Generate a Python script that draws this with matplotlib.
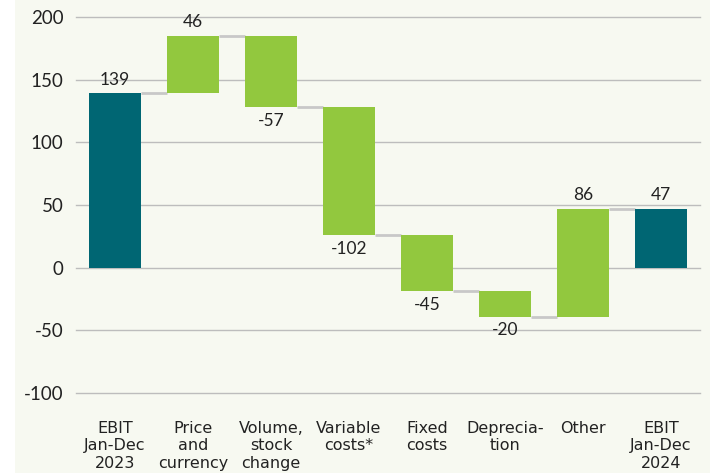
import matplotlib
matplotlib.use("Agg")
import matplotlib.pyplot as plt
import numpy as np
from matplotlib.patches import Rectangle

categories = ["EBIT\nJan-Dec\n2023", "Price\nand\ncurrency", "Volume,\nstock\nchange",
              "Variable\ncosts*", "Fixed\ncosts", "Deprecia-\ntion", "Other",
              "EBIT\nJan-Dec\n2024"]
values = [139, 46, -57, -102, -45, -20, 86, 47]
is_total = [True, False, False, False, False, False, False, True]

TEAL = "#006673"
GREEN = "#92c83e"
BG = "#f7f9f1"

plt.rcParams['font.family'] = ['Lato', 'DejaVu Sans']
plt.rcParams['axes.unicode_minus'] = False

fig = plt.figure(figsize=(7.1, 4.73), dpi=100, facecolor="white")
fig.patches.append(Rectangle((15 / 710, 0), 1, 1, transform=fig.transFigure,
                             facecolor=BG, edgecolor="none", zorder=-10))
ax = fig.add_axes([76 / 710, 1 - 393 / 473, (700 - 76) / 710, (393 - 17) / 473])
ax.set_facecolor(BG)

x = np.arange(len(categories))
width = 0.67

# running totals for the waterfall
bottoms, heights, ends = [], [], []
level = 0
for v, tot in zip(values, is_total):
    if tot:
        bottoms.append(0)
        heights.append(v)
        level = v
    else:
        start = level
        level = level + v
        bottoms.append(min(start, level))
        heights.append(abs(v))
    ends.append(level)

colors = [TEAL if t else GREEN for t in is_total]
ax.bar(x, heights, width, bottom=bottoms, color=colors, zorder=3)

# connector lines
for i in range(len(x) - 1):
    ax.plot([x[i] + width / 2, x[i + 1] - width / 2], [ends[i], ends[i]],
            color="#c8c8c8", lw=2, zorder=2, solid_capstyle="butt")

# value labels
for i, v in enumerate(values):
    if v >= 0:
        ax.annotate(str(v), (x[i], bottoms[i] + heights[i]), xytext=(0, 4),
                    textcoords="offset points", ha="center", va="bottom",
                    fontsize=12.5, color="#222222")
    else:
        ax.annotate(str(v), (x[i], bottoms[i]), xytext=(0, -4),
                    textcoords="offset points", ha="center", va="top",
                    fontsize=12.5, color="#222222")

ax.set_xlim(-0.5, len(x) - 0.5)
ax.set_ylim(-100, 200)
ax.set_yticks([-100, -50, 0, 50, 100, 150, 200])
ax.yaxis.grid(True, color="#bdbdbd", lw=1, zorder=0)
for gl in ax.get_ygridlines():
    gl.set_clip_on(False)
ax.set_axisbelow(True)
for s in ax.spines.values():
    s.set_visible(False)
ax.tick_params(axis="y", length=0, pad=9, labelsize=13.5, labelcolor="#222222")
ax.tick_params(axis="x", length=0, pad=20)
ax.set_xticks(x)
ax.set_xticklabels(categories, fontsize=11.5, color="#222222", linespacing=1.2,
                   family=['Liberation Sans Narrow', 'DejaVu Sans'])

fig.savefig("out.png", dpi=100, facecolor=fig.get_facecolor())
